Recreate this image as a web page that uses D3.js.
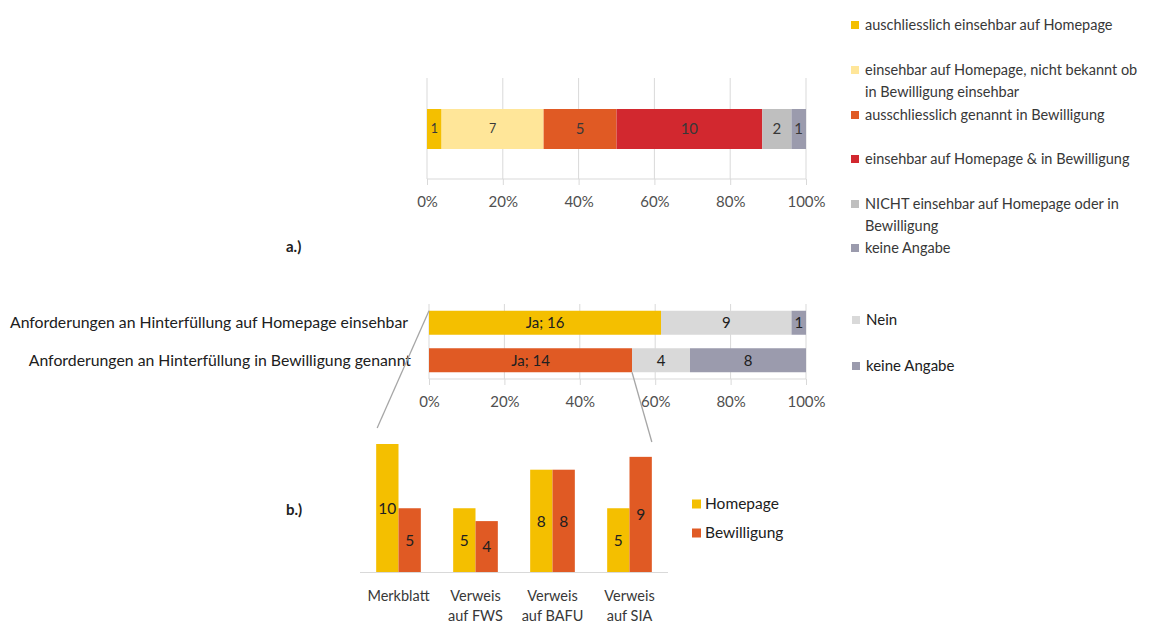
<!DOCTYPE html>
<html>
<head>
<meta charset="utf-8">
<script src="https://cdn.jsdelivr.net/npm/d3@7"></script>
<style>
  html, body { margin: 0; padding: 0; background: #fff; }
  svg text { font-family: Lato, "Open Sans", sans-serif; }
</style>
</head>
<body>
<svg id="chart" width="1165" height="623"></svg>
<script>
// ---------- DATA ----------
const topCategories = [
  "auschliesslich einsehbar auf Homepage",
  "einsehbar auf Homepage, nicht bekannt ob|in Bewilligung einsehbar",
  "ausschliesslich genannt in Bewilligung",
  "einsehbar auf Homepage & in Bewilligung",
  "NICHT einsehbar auf Homepage oder in|Bewilligung",
  "keine Angabe"
];
const topValues = [1, 7, 5, 10, 2, 1];
const topColors = ["#F4BF00", "#FFE699", "#E05A24", "#D2282F", "#BFBFBF", "#9B9BAD"];

const midCategories = [
  "Anforderungen an Hinterfüllung auf Homepage einsehbar",
  "Anforderungen an Hinterfüllung in Bewilligung genannt"
];
const midSeries = ["Ja", "Nein", "keine Angabe"];
const midJa = [16, 14];
const midNein = [9, 4];
const midKeine = [1, 8];
const midJaColors = ["#F4BF00", "#E05A24"];
const midNeinColor = "#D9D9D9";
const midKeineColor = "#9B9BAD";

const bottomCategories = ["Merkblatt", "Verweis|auf FWS", "Verweis|auf BAFU", "Verweis|auf SIA"];
const bottomSeries = ["Homepage", "Bewilligung"];
const homepageValues = [10, 5, 8, 5];
const bewilligungValues = [5, 4, 8, 9];
const bottomColors = ["#F4BF00", "#E05A24"];

const pctTicks = [0, 0.2, 0.4, 0.6, 0.8, 1];

// ---------- SETUP ----------
const svg = d3.select("#chart");
const gridColor = "#D9D9D9";
const tickColor = "#505050";
const textColor = "#202020";

function drawPercentAxis(x, yTop, yAxis) {
  const g = svg.append("g");
  g.selectAll("line.grid").data(pctTicks).join("line")
    .attr("x1", d => x(d)).attr("x2", d => x(d))
    .attr("y1", yTop).attr("y2", yAxis)
    .attr("stroke", gridColor).attr("stroke-width", 1);
  const axis = d3.axisBottom(x).tickValues(pctTicks).tickSize(6).tickPadding(11)
    .tickFormat(d3.format(".0%"));
  const ag = svg.append("g").attr("transform", `translate(0,${yAxis})`).call(axis);
  ag.select(".domain").attr("stroke", gridColor).attr("d", `M${x(0)},0H${x(1)}`);
  ag.selectAll(".tick line").attr("stroke", gridColor);
  ag.selectAll(".tick text").attr("fill", tickColor)
    .style("font-size", "15px").style("font-family", "Lato, 'Open Sans', sans-serif");
  return ag;
}

// ---------- TOP CHART (a) ----------
const xTop = d3.scaleLinear().domain([0, 1]).range([427, 806]);
const topTotal = d3.sum(topValues);
let cum = 0;
const topStack = topValues.map((v, i) => {
  const s = { v, i, x0: cum / topTotal, x1: (cum + v) / topTotal };
  cum += v; return s;
});
drawPercentAxis(xTop, 78, 179);
svg.append("g").selectAll("rect").data(topStack).join("rect")
  .attr("x", d => xTop(d.x0)).attr("width", d => xTop(d.x1) - xTop(d.x0))
  .attr("y", 109).attr("height", 40)
  .attr("fill", d => topColors[d.i]);
svg.append("g").selectAll("text").data(topStack).join("text")
  .attr("x", d => (xTop(d.x0) + xTop(d.x1)) / 2)
  .attr("y", 129).attr("dy", "0.35em").attr("text-anchor", "middle")
  .attr("fill", "#383838")
  .style("font-size", d => d.i < 2 ? "12.5px" : "15px")
  .text(d => d.v);

// legend top
const legTopY = [25, 70, 115, 159, 204, 248];
const lgTop = svg.append("g");
topCategories.forEach((c, i) => {
  lgTop.append("rect").attr("x", 851).attr("y", legTopY[i] - 4).attr("width", 8).attr("height", 8)
    .attr("fill", topColors[i]);
  c.split("|").forEach((line, j) => {
    lgTop.append("text").attr("x", 865).attr("y", legTopY[i] + j * 22).attr("dy", "0.35em")
      .attr("fill", "#383838").style("font-size", "14.5px").text(line);
  });
});

svg.append("text").attr("x", 286).attr("y", 247).attr("dy", "0.35em")
  .attr("fill", textColor).style("font-size", "15px").style("font-weight", "bold").text("a.)");

// ---------- MIDDLE CHART ----------
const xMid = d3.scaleLinear().domain([0, 1]).range([429, 806]);
const yMid = d3.scaleBand().domain(midCategories).range([304, 379]).paddingInner(0.36).paddingOuter(0.18);
drawPercentAxis(xMid, 304, 379);
const midRows = midCategories.map((c, i) => {
  const tot = midJa[i] + midNein[i] + midKeine[i];
  const vals = [midJa[i], midNein[i], midKeine[i]];
  const cols = [midJaColors[i], midNeinColor, midKeineColor];
  let c0 = 0;
  return vals.map((v, k) => {
    const s = { cat: c, v, k, x0: c0 / tot, x1: (c0 + v) / tot, color: cols[k] };
    c0 += v; return s;
  });
}).flat();
svg.append("g").selectAll("rect").data(midRows).join("rect")
  .attr("x", d => xMid(d.x0)).attr("width", d => xMid(d.x1) - xMid(d.x0))
  .attr("y", d => yMid(d.cat)).attr("height", yMid.bandwidth())
  .attr("fill", d => d.color);
svg.append("g").selectAll("text").data(midRows).join("text")
  .attr("x", d => (xMid(d.x0) + xMid(d.x1)) / 2)
  .attr("y", d => yMid(d.cat) + yMid.bandwidth() / 2).attr("dy", "0.35em")
  .attr("text-anchor", "middle").attr("fill", textColor)
  .style("font-size", "15px")
  .text(d => d.k === 0 ? `Ja; ${d.v}` : d.v);
// category labels
svg.append("g").selectAll("text").data(midCategories).join("text")
  .attr("x", (d, i) => i === 0 ? 408 : 411)
  .attr("y", (d, i) => i === 0 ? 322 : 360).attr("dy", "0.35em")
  .attr("text-anchor", "end").attr("fill", textColor)
  .style("font-size", "15.8px").text(d => d);
// legend mid
const legMid = [{ t: "Nein", c: midNeinColor, y: 320 }, { t: "keine Angabe", c: midKeineColor, y: 366 }];
legMid.forEach(l => {
  svg.append("rect").attr("x", 852).attr("y", l.y - 4).attr("width", 8).attr("height", 8).attr("fill", l.c);
  svg.append("text").attr("x", 866).attr("y", l.y).attr("dy", "0.35em")
    .attr("fill", textColor).style("font-size", "15px").text(l.t);
});

// ---------- BOTTOM CHART (b) ----------
const x0 = d3.scaleBand().domain(bottomCategories).range([360, 668]).paddingInner(0.42).paddingOuter(0.21);
const x1 = d3.scaleBand().domain(bottomSeries).range([0, x0.bandwidth()]);
const yB = d3.scaleLinear().domain([0, 12]).range([572.5, 418.3]);
const bData = bottomCategories.map((c, i) => [
  { cat: c, s: "Homepage", v: homepageValues[i] },
  { cat: c, s: "Bewilligung", v: bewilligungValues[i] }
]).flat();
svg.append("g").selectAll("rect").data(bData).join("rect")
  .attr("x", d => x0(d.cat) + x1(d.s)).attr("width", x1.bandwidth())
  .attr("y", d => yB(d.v)).attr("height", d => yB(0) - yB(d.v))
  .attr("fill", d => bottomColors[bottomSeries.indexOf(d.s)]);
svg.append("line").attr("x1", 360).attr("x2", 668).attr("y1", yB(0)).attr("y2", yB(0))
  .attr("stroke", gridColor).attr("stroke-width", 1.2);
svg.append("g").selectAll("text").data(bData).join("text")
  .attr("x", d => x0(d.cat) + x1(d.s) + x1.bandwidth() / 2)
  .attr("y", d => (yB(d.v) + yB(0)) / 2).attr("dy", "0.35em")
  .attr("text-anchor", "middle").attr("fill", textColor)
  .style("font-size", "15.5px").text(d => d.v);
// category labels
bottomCategories.forEach(c => {
  c.split("|").forEach((line, j) => {
    svg.append("text").attr("x", x0(c) + x0.bandwidth() / 2).attr("y", 596 + j * 19.5)
      .attr("dy", "0.35em").attr("text-anchor", "middle").attr("fill", "#383838")
      .style("font-size", "14.5px").text(line);
  });
});
// legend bottom
bottomSeries.forEach((s, i) => {
  const y = 504 + i * 29;
  svg.append("rect").attr("x", 692).attr("y", y - 4.5).attr("width", 9).attr("height", 9).attr("fill", bottomColors[i]);
  svg.append("text").attr("x", 705).attr("y", y).attr("dy", "0.35em")
    .attr("fill", textColor).style("font-size", "15.5px").text(s);
});
svg.append("text").attr("x", 286).attr("y", 510).attr("dy", "0.35em")
  .attr("fill", textColor).style("font-size", "15px").style("font-weight", "bold").text("b.)");

// ---------- CONNECTOR LINES ----------
const firstCat = bottomCategories[0], lastCat = bottomCategories[bottomCategories.length - 1];
svg.append("line")
  .attr("x1", xMid(0)).attr("y1", yMid(midCategories[0]))
  .attr("x2", x0(firstCat) + 1).attr("y2", 428)
  .attr("stroke", "#A6A6A6").attr("stroke-width", 1.3);
const jaEnd2 = midJa[1] / (midJa[1] + midNein[1] + midKeine[1]);
svg.append("line")
  .attr("x1", xMid(jaEnd2)).attr("y1", yMid(midCategories[1]) + yMid.bandwidth())
  .attr("x2", x0(lastCat) + x0.bandwidth()).attr("y2", 442)
  .attr("stroke", "#A6A6A6").attr("stroke-width", 1.3);
</script>
</body>
</html>
